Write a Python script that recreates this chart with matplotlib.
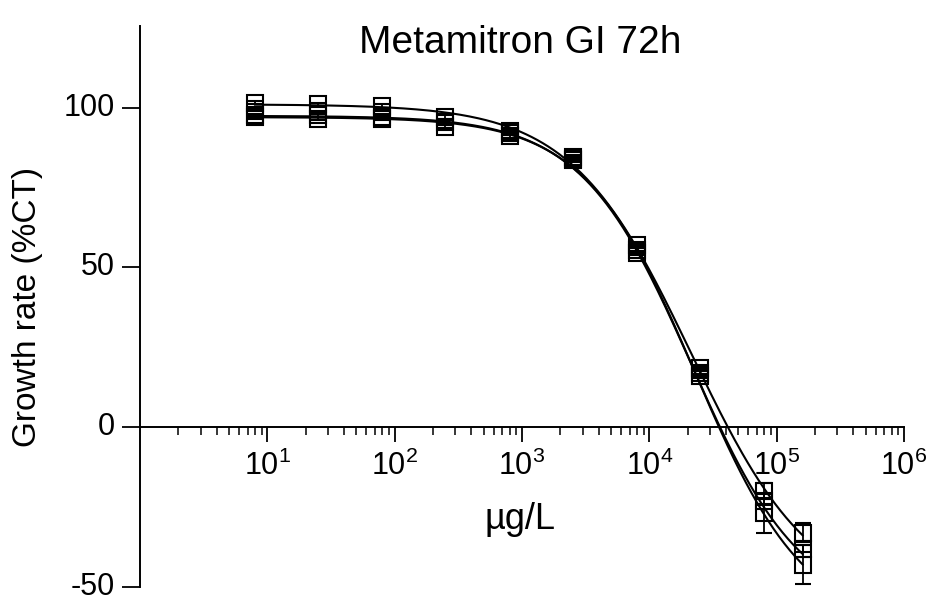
import numpy as np
import matplotlib.pyplot as plt
from matplotlib.transforms import ScaledTranslation

plt.rcParams['font.family'] = ['Liberation Sans', 'DejaVu Sans']
plt.rcParams['mathtext.fontset'] = 'custom'
plt.rcParams['mathtext.rm'] = 'Liberation Sans'
plt.rcParams['mathtext.it'] = 'Liberation Sans:italic'
plt.rcParams['mathtext.bf'] = 'Liberation Sans:bold'
plt.rcParams['axes.unicode_minus'] = False

# Concentrations (ug/L) and growth rate (% of control), three replicate series
conc = [8, 25, 80, 250, 800, 2500, 8000, 25000, 80000, 160000]
rep1 = [101.5, 101.0, 100.5, 97.0, 92.5, 84.5, 57.0, 18.5, -20.0, -33.0]
rep2 = [97.5, 97.5, 97.0, 95.5, 92.0, 84.0, 55.5, 17.0, -23.0, -38.0]
rep3 = [97.0, 96.5, 96.5, 94.0, 91.0, 83.5, 54.5, 16.0, -27.0, -43.0]
sd1 = [0.5, 0.5, 0.5, 0.5, 0.5, 0.5, 0.5, 0.5, 2.5, 3.0]
sd2 = [0.5, 0.5, 0.5, 0.5, 0.5, 0.5, 0.5, 0.5, 1.0, 1.0]
sd3 = [0.5, 0.5, 0.5, 0.5, 0.5, 0.5, 0.5, 0.5, 6.0, 6.0]

# Four-parameter logistic fits: top, bottom, logEC50, hill slope
fit1 = (101.0, -55.0, 4.33, 0.92)
fit2 = (97.4, -58.0, 4.33, 1.0)
fit3 = (97.0, -63.0, 4.36, 1.0)


def logistic(logx, top, bottom, logec50, hill):
    return bottom + (top - bottom) / (1 + 10 ** ((logx - logec50) * hill))


fig = plt.figure(figsize=(9.31, 6.03), dpi=100)
ax = fig.add_axes([0.1504, 0.0265, 0.8206, 0.9304])

logx = np.linspace(np.log10(conc[0]), np.log10(conc[-1]), 300)
for reps, sd, fit in [(rep1, sd1, fit1), (rep2, sd2, fit2), (rep3, sd3, fit3)]:
    ax.plot(10 ** logx, logistic(logx, *fit), color='black', lw=1.5, zorder=2)
    ax.errorbar(conc, reps, yerr=sd, fmt='s', ms=11, mfc='none', mec='black',
                mew=1.5, ecolor='black', elinewidth=1.3, capsize=6,
                capthick=1.3, zorder=3)

ax.set_xscale('log')
ax.set_xlim(1, 1e6)
ax.set_ylim(-50, 125.5)

for side in ['top', 'right']:
    ax.spines[side].set_visible(False)
ax.spines['bottom'].set_position(('data', 0))
ax.spines['bottom'].set_linewidth(1.4)
ax.spines['left'].set_linewidth(1.4)

major = [10, 100, 1e3, 1e4, 1e5, 1e6]
ax.set_xticks(major)
ax.set_xticklabels(['$10^{%d}$' % i for i in range(1, 7)])
minor = [m * 10 ** d for d in range(0, 6) for m in range(2, 10)]
ax.set_xticks(minor, minor=True)
ax.tick_params(axis='x', which='major', direction='out', length=11, width=1.3,
               labelsize=22, pad=6)
ax.tick_params(axis='x', which='minor', direction='out', length=6, width=1.1)

ax.set_yticks([-50, 0, 50, 100])
ax.tick_params(axis='y', direction='out', length=13, width=1.3, labelsize=22, pad=5)

ax.set_ylabel('Growth rate (%CT)', fontsize=24)
ax.yaxis.set_label_coords(-0.127, 0.50)
ax.set_xlabel('µg/L', fontsize=26)
ax.xaxis.set_label_coords(0.497, 0.152)

ax.text(0.497, 0.97, 'Metamitron GI 72h', transform=ax.transAxes,
        ha='center', va='center', fontsize=28)

# nudge the y tick labels up a few pixels so they sit slightly above the ticks
fig.canvas.draw()
lift = ScaledTranslation(0, 0.035, fig.dpi_scale_trans)
for lab in ax.get_yticklabels():
    lab.set_transform(lab.get_transform() + lift)

fig.savefig('out.png', dpi=100)
